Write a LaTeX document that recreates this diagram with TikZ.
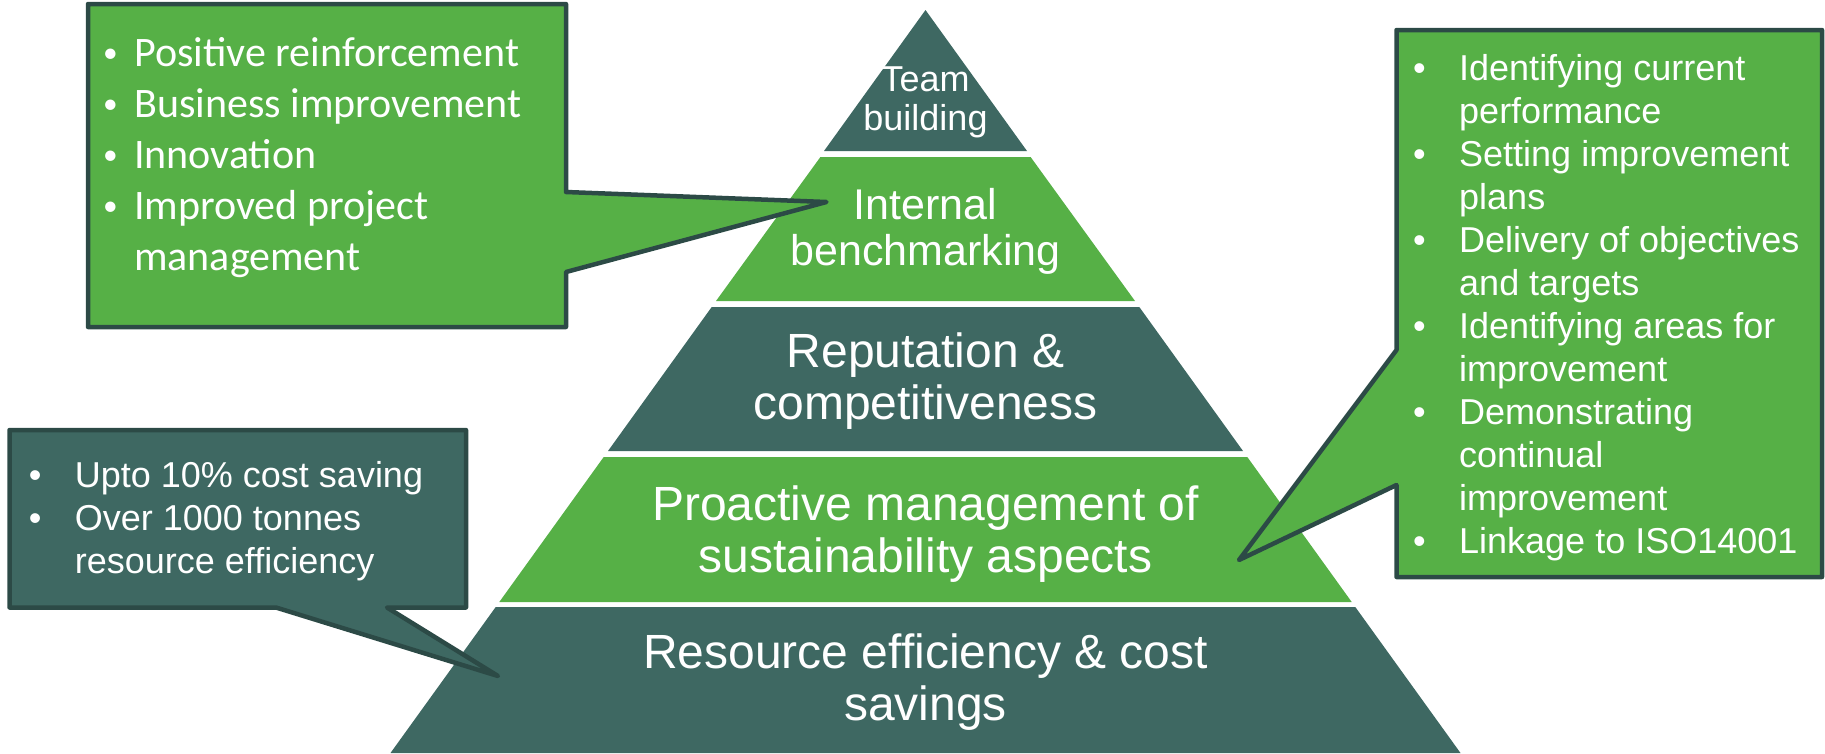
\documentclass[tikz,border=0pt]{standalone}
\usepackage{fontspec}
\setmainfont{Liberation Sans}
\newfontfamily\calibrifont{Carlito}
\definecolor{pgreen}{RGB}{86,176,70}
\definecolor{pteal}{RGB}{62,104,98}
\definecolor{pline}{RGB}{44,74,70}
\newcommand\blitem[2]{\makebox[#1][l]{•}#2}
\newcommand\smitem[2]{\makebox[#1][l]{\hspace{2pt}\raisebox{0.09em}{\scalebox{0.7}{•}}}#2}
\newcommand\blcont[2]{\hspace*{#1}#2}
\begin{document}
\begin{tikzpicture}[x=1pt,y=-1pt,
  bandtext/.style={text=white, align=center, anchor=base, inner sep=0pt},
  listtext/.style={text=white, align=left, anchor=base west, inner sep=0pt},
  callout/.style={draw=pline, line width=4.5pt, line join=round}]
\useasboundingbox (0,0) rectangle (1825,753);
% pyramid bands
\fill[pteal]  (925.5,10) -- (1027,151) -- (824,151) -- cycle;
\fill[pgreen] (820.4,157) -- (1030.6,157) -- (1135,301) -- (716,301) -- cycle;
\fill[pteal]  (711.7,307) -- (1139.3,307) -- (1243,451) -- (608,451) -- cycle;
\fill[pgreen] (603.7,457) -- (1247.3,457) -- (1351.7,602) -- (499.3,602) -- cycle;
\fill[pteal]  (495.7,607) -- (1355.3,607) -- (1460.5,753) -- (390.5,753) -- cycle;
% pyramid labels (anchored at the baseline of the last line)
\node[bandtext, font=\fontsize{36}{39}\selectfont] (team) at (925.5,130.7) {Team\\building};
\node[bandtext, font=\fontsize{43}{46}\selectfont] (internal) at (925.5,265) {Internal\\benchmarking};
\node[bandtext, font=\fontsize{48}{52}\selectfont] (reput) at (925.5,419) {Reputation \&\\competitiveness};
\node[bandtext, font=\fontsize{48}{52}\selectfont] (proact) at (925.5,572) {Proactive management of\\sustainability aspects};
\node[bandtext, font=\fontsize{48}{52}\selectfont] (resource) at (925.5,720) {Resource efficiency \& cost\\savings};
% callouts
\draw[callout, fill=pgreen] (88,4) -- (566,4) -- (566,192) -- (826.5,202) -- (566,272) -- (566,327) -- (88,327) -- cycle;
\draw[callout, fill=pgreen] (1396.5,30) -- (1822,30) -- (1822,577) -- (1396.5,577) -- (1396.5,485) -- (1239,560) -- (1396.5,350) -- cycle;
\draw[callout, fill=pteal] (9.5,430) -- (466,430) -- (466,607.5) -- (387,607.5) -- (498,676) -- (276,607.5) -- (9.5,607.5) -- cycle;
% callout texts
\node[listtext, font=\calibrifont\fontsize{42}{51}\selectfont] (tl) at (101,270)
  {\smitem{33pt}{Positive reinforcement}\\
   \smitem{33pt}{Business improvement}\\
   \smitem{33pt}{Innovation}\\
   \smitem{33pt}{Improved project}\\
   \blcont{33pt}{management}};
\node[listtext, font=\fontsize{36}{43}\selectfont] (rt) at (1413,553)
  {\blitem{46pt}{Identifying current}\\
   \blcont{46pt}{performance}\\
   \blitem{46pt}{Setting improvement}\\
   \blcont{46pt}{plans}\\
   \blitem{46pt}{Delivery of objectives}\\
   \blcont{46pt}{and targets}\\
   \blitem{46pt}{Identifying areas for}\\
   \blcont{46pt}{improvement}\\
   \blitem{46pt}{Demonstrating}\\
   \blcont{46pt}{continual}\\
   \blcont{46pt}{improvement}\\
   \blitem{46pt}{Linkage to ISO14001}};
\node[listtext, font=\fontsize{36}{43}\selectfont] (bl) at (28.7,573.3)
  {\blitem{46pt}{Upto 10\% cost saving}\\
   \blitem{46pt}{Over 1000 tonnes}\\
   \blcont{46pt}{resource efficiency}};
\end{tikzpicture}
\end{document}
